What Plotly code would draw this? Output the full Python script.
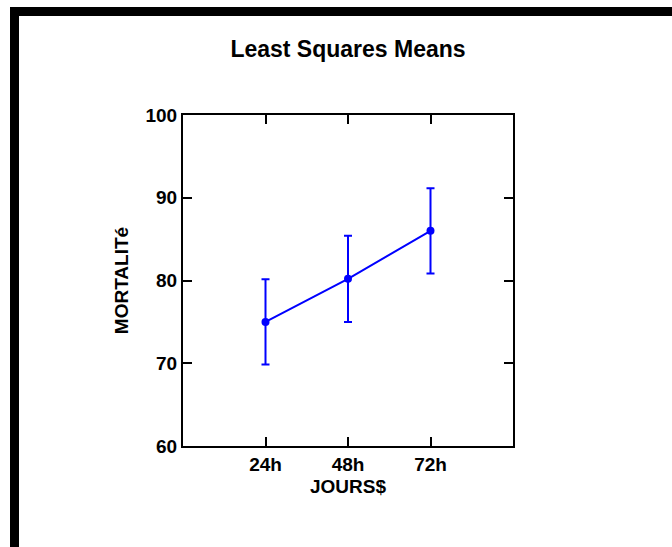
import plotly.graph_objects as go

categories = ["24h", "48h", "72h"]
x_pos = [1, 2, 3]
means = [75.0, 80.2, 86.0]
errors = [5.15, 5.2, 5.15]
y_ticks = [60, 70, 80, 90, 100]

W, H = 672, 547
L, R, T, B = 183, 513, 115, 446

def px(x):
    return (x - L) / (R - L)

def py(y):
    return (B - y) / (B - T)

FONT = "Liberation Sans"

fig = go.Figure()
fig.add_trace(go.Scatter(
    x=x_pos, y=means, mode="lines+markers",
    line=dict(color="#0000FF", width=2),
    marker=dict(color="#0000FF", size=8, symbol="circle"),
    error_y=dict(type="data", array=errors, visible=True,
                 color="#0000FF", thickness=2, width=4),
    showlegend=False,
))

axis_common = dict(
    showline=True, linecolor="black", linewidth=2, mirror="ticks",
    ticks="inside", ticklen=9, tickwidth=2, tickcolor="black",
    showgrid=False, zeroline=False,
    tickfont=dict(family=FONT, size=19, color="black", weight="bold"),
)

fig.update_xaxes(
    range=[0, 4], tickvals=x_pos, ticktext=categories,
    title=dict(text="JOURS$", font=dict(family=FONT, size=19, color="black", weight="bold"), standoff=6),
    **axis_common,
)
fig.update_yaxes(
    range=[60, 100], tickvals=y_ticks,
    title=dict(text="MORTALITé", font=dict(family=FONT, size=19, color="black", weight="bold"), standoff=12),
    **axis_common,
)

shapes = [
    dict(type="rect", xref="paper", yref="paper",
         x0=px(10), x1=px(680), y0=py(7), y1=py(16),
         fillcolor="black", line=dict(width=0), layer="above"),
    dict(type="rect", xref="paper", yref="paper",
         x0=px(10), x1=px(19), y0=py(7), y1=py(560),
         fillcolor="black", line=dict(width=0), layer="above"),
]

fig.update_layout(
    width=W, height=H,
    margin=dict(l=L, r=W - R, t=T, b=H - B, autoexpand=False),
    paper_bgcolor="white", plot_bgcolor="white",
    title=dict(text="Least Squares Means", x=0.5, xref="paper",
               y=1 - 49 / H, yref="container", yanchor="middle", xanchor="center",
               font=dict(family=FONT, size=23, color="black", weight="bold")),
    shapes=shapes,
)

fig.write_html("out.html")
